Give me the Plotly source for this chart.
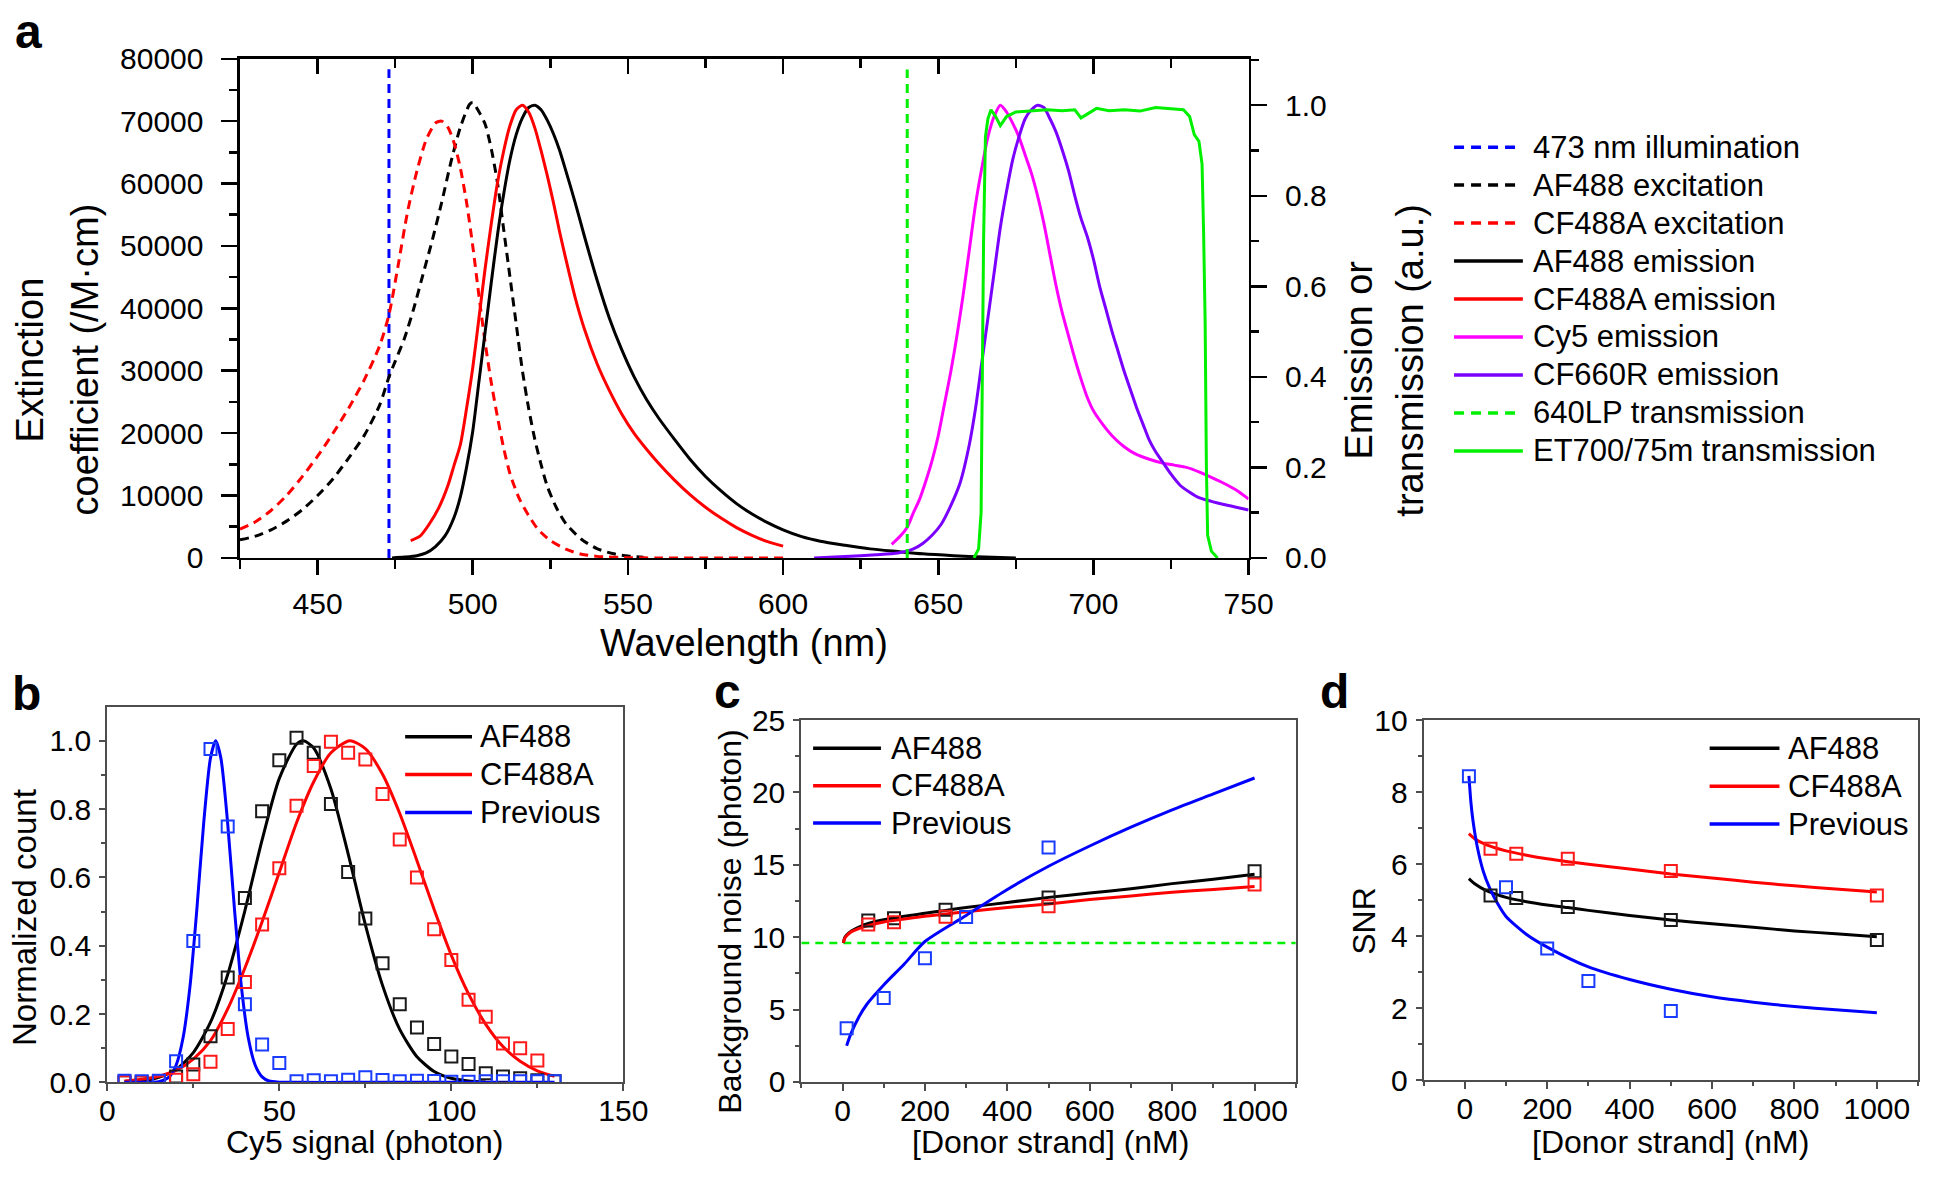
import plotly.graph_objects as go

W, H = 1946, 1179
def PX(x): return x / W
def PY(y): return 1 - y / H

FONT = "Liberation Sans, Arial, sans-serif"
BLUE, BLACK, RED = "#0000ff", "#000000", "#ff0000"
MAGENTA, PURPLE, GREEN = "#ff00ff", "#7a00ff", "#00f000"

# ---------------- panel a data ----------------
illum_wl = 473
illum_top = 78300
lp_wl = 640
lp_top = 1.079

af488_exc_wl = [425,430,435,440,445,450,455,460,465,470,473,475,478,481,484,487,490,493,496,499,
                500,502,504,506,508,510,512,514,516,518,520,522,524,527,530,535,540,545,550,555]
af488_exc = [2900,3500,4500,5900,7700,10000,12700,16000,19600,24500,29000,31500,35200,40000,45500,
             51000,57000,63500,69000,72700,73000,71500,69500,65500,60000,52500,45000,37500,30000,
             24000,19000,15000,11500,8000,5500,3000,1500,700,300,100]

cf488a_exc_wl = [425,430,435,440,445,450,455,460,465,470,473,476,479,482,485,488,490,492,494,496,
                 498,500,502,504,506,508,510,512,515,518,521,525,530,535,540,550,560,580,600]
cf488a_exc = [4600,5800,7600,10000,13000,16300,20000,24000,28500,34000,39000,47000,55500,62000,
              67000,69700,70000,69000,66500,62500,57000,50000,42000,34500,28000,22500,17500,13500,
              9500,6800,4600,2800,1400,600,250,50,0,0,0]

af488_em_wl = [474,478,482,485,488,491,494,496,498,500,502,504,506,508,510,512,514,516,518,520,
               522,524,526,528,530,533,536,540,544,548,552,556,560,565,570,575,580,585,590,595,
               600,606,612,620,628,637,645,655,665,675]
af488_em = [0.0,0.002,0.005,0.011,0.025,0.048,0.09,0.135,0.2,0.28,0.39,0.5,0.61,0.715,0.805,0.88,
            0.935,0.972,0.995,1.0,0.99,0.967,0.937,0.9,0.855,0.785,0.71,0.615,0.53,0.46,0.4,
            0.35,0.308,0.262,0.218,0.18,0.148,0.12,0.097,0.078,0.062,0.047,0.037,0.028,0.02,
            0.014,0.009,0.005,0.002,0.0]

cf488a_em_wl = [480,483,486,489,492,494,496,498,500,502,504,506,508,510,512,514,516,518,520,522,
                524,526,528,530,533,536,540,544,548,552,556,560,565,570,575,580,585,590,595,600]
cf488a_em = [0.038,0.048,0.075,0.11,0.16,0.205,0.25,0.33,0.42,0.53,0.64,0.74,0.83,0.9,0.955,0.99,
             1.0,0.985,0.95,0.9,0.845,0.785,0.72,0.66,0.575,0.505,0.43,0.37,0.318,0.275,0.24,
             0.208,0.172,0.14,0.112,0.088,0.067,0.05,0.036,0.026]

cy5_em_wl = [635,638,640,642,644,646,648,650,652,654,656,658,660,662,664,666,668,670,672,674,676,
             678,680,682,684,686,688,690,692,694,696,698,700,703,706,710,714,718,722,726,730,734,
             738,742,746,750]
cy5_em = [0.03,0.05,0.068,0.1,0.13,0.17,0.215,0.27,0.34,0.41,0.49,0.58,0.68,0.78,0.86,0.93,0.975,
          1.0,0.985,0.96,0.93,0.89,0.85,0.8,0.74,0.67,0.6,0.54,0.49,0.44,0.395,0.355,0.325,0.295,
          0.27,0.245,0.228,0.218,0.21,0.205,0.2,0.19,0.178,0.165,0.15,0.13]

cf660r_em_wl = [610,620,630,637,642,645,648,651,654,657,660,662,664,666,668,670,672,674,676,678,
                680,682,684,686,688,690,692,694,696,698,700,702,704,706,708,710,712,714,716,718,
                720,722,725,728,731,734,738,742,746,750]
cf660r_em = [0.0,0.003,0.007,0.011,0.02,0.032,0.05,0.075,0.115,0.165,0.25,0.33,0.43,0.53,0.63,0.73,
             0.81,0.88,0.93,0.97,0.99,1.0,0.995,0.97,0.94,0.9,0.855,0.8,0.75,0.71,0.66,0.6,0.55,
             0.5,0.455,0.41,0.37,0.33,0.295,0.26,0.235,0.215,0.185,0.16,0.145,0.133,0.125,0.118,
             0.112,0.106]

et700_wl = [661.5,663,663.8,664.2,664.6,665.2,666,667,668.5,670,672,675,680,685,690,694,696,698,
            701,705,710,715,720,725,729,731,732.5,734,735,735.5,736,736.4,736.8,738,740]
et700_tr = [0.0,0.02,0.1,0.45,0.7,0.93,0.97,0.99,0.975,0.955,0.975,0.985,0.987,0.99,0.988,0.99,
            0.972,0.98,0.993,0.988,0.99,0.987,0.995,0.992,0.99,0.975,0.935,0.92,0.87,0.72,0.52,
            0.2,0.05,0.015,0.0]

legend_a = ["473 nm illumination", "AF488 excitation", "CF488A excitation", "AF488 emission",
            "CF488A emission", "Cy5 emission", "CF660R emission", "640LP transmission",
            "ET700/75m transmission"]

# ---------------- panel b data ----------------
series_names = ["AF488", "CF488A", "Previous"]
b_bins = [5,10,15,20,25,30,35,40,45,50,55,60,65,70,75,80,85,90,95,100,105,110,115,120,125,130]
b_af488 = [0.0,0.0,0.003,0.017,0.052,0.135,0.307,0.54,0.794,0.943,1.009,0.965,0.815,0.616,0.48,
           0.349,0.229,0.161,0.112,0.076,0.054,0.027,0.017,0.012,0.006,0.003]
b_cf_bins = [5,10,15,20,25,30,35,40,45,50,55,60,65,70,75,80,85,90,95,100,105,110,115,120,125]
b_cf488a = [0.0,0.0,0.0,0.008,0.024,0.06,0.156,0.294,0.462,0.627,0.81,0.926,0.997,0.965,0.945,
            0.844,0.711,0.6,0.448,0.358,0.242,0.192,0.114,0.1,0.064]
b_prev = [0.005,0.003,0.005,0.062,0.414,0.976,0.749,0.229,0.111,0.057,0.003,0.006,0.003,0.008,
          0.015,0.007,0.003,0.005,0.004,0.002,0.002,0.003,0.003,0.003,0.003,0.003]

b_af_fit_x = [5,10,15,20,25,30,35,40,45,50,55,57,60,65,70,75,80,85,90,95,100,105,110]
b_af_fit = [0.002,0.005,0.015,0.038,0.087,0.176,0.316,0.503,0.71,0.89,0.99,1.0,0.979,0.859,0.669,
            0.462,0.284,0.155,0.075,0.032,0.012,0.004,0.001]
b_cf_fit_x = [5,10,15,20,25,30,35,40,45,50,55,60,65,70.5,75,80,85,90,95,100,105,110,115,120,125,130]
b_cf_fit = [0.004,0.009,0.018,0.035,0.068,0.122,0.215,0.335,0.47,0.615,0.76,0.88,0.965,1.0,0.977,
            0.902,0.787,0.649,0.506,0.372,0.259,0.17,0.105,0.062,0.034,0.018]
b_prev_fit_x = [5,10,13,15,18,20,22,24,26,28,30,31.5,33,35,37,39,41,43,45,47,50,55,70,100,130]
b_prev_fit = [0.0,0.0,0.0005,0.002,0.016,0.05,0.129,0.278,0.503,0.757,0.95,1.0,0.95,0.757,0.503,
              0.278,0.129,0.05,0.016,0.004,0.0005,0.0,0.0,0.0,0.0]

# ---------------- panel c data ----------------
donor = [62.5, 125, 250, 500, 1000]
prev_donor = [10, 100, 200, 300, 500]
c_af488 = [11.15, 11.3, 11.9, 12.75, 14.55]
c_cf488a = [10.87, 11.03, 11.42, 12.14, 13.64]
c_prev = [3.7, 5.8, 8.55, 11.4, 16.2]
c_fit_x = [2,5,10,20,40,62.5,100,150,200,250,300,400,500,600,700,800,900,1000]
c_af_fit = [9.6,9.95,10.15,10.4,10.7,10.95,11.2,11.45,11.65,11.85,12.05,12.4,12.75,13.05,13.35,
            13.7,14.0,14.35]
c_cf_fit = [9.6,9.9,10.1,10.35,10.6,10.8,11.05,11.25,11.45,11.6,11.75,12.05,12.3,12.6,12.85,13.1,
            13.3,13.5]
c_prev_fit_x = [10,20,40,60,100,150,200,300,400,500,600,700,800,900,1000]
c_prev_fit = [2.5,3.3,4.5,5.4,6.7,8.15,9.7,11.5,13.3,14.9,16.3,17.6,18.8,19.9,21.0]
c_threshold = 9.6
c_threshold_x = [-100, 1100]

# ---------------- panel d data ----------------
d_af488 = [5.13, 5.06, 4.81, 4.45, 3.90]
d_cf488a = [6.43, 6.29, 6.15, 5.81, 5.13]
d_prev = [8.44, 5.36, 3.66, 2.76, 1.93]
d_fit_x = [10,25,50,75,100,150,200,250,300,400,500,600,700,800,900,1000]
d_af_fit = [5.6,5.45,5.28,5.17,5.08,4.96,4.87,4.8,4.72,4.58,4.45,4.35,4.25,4.15,4.07,3.99]
d_cf_fit = [6.85,6.7,6.55,6.45,6.37,6.25,6.15,6.07,6.0,5.87,5.73,5.62,5.5,5.4,5.31,5.23]
d_prev_fit_x = [10,15,20,30,45,60,80,100,150,200,300,400,500,600,700,800,900,1000]
d_prev_fit = [8.45,7.7,7.2,6.5,5.8,5.35,4.9,4.55,4.05,3.7,3.15,2.8,2.53,2.32,2.17,2.05,1.96,1.88]

# ======================================================
fig = go.Figure()
DASH = "9px,6px"

def line(x, y, color, xa, ya, dash="solid", width=3, shape="spline"):
    ln = dict(color=color, width=width, dash=dash, shape=shape)
    if shape == "spline":
        ln["smoothing"] = 0.7
    fig.add_trace(go.Scatter(x=x, y=y, mode="lines", xaxis=xa, yaxis=ya, showlegend=False,
                             hoverinfo="skip", line=ln))

def squares(x, y, color, xa, ya):
    fig.add_trace(go.Scatter(x=x, y=y, mode="markers", xaxis=xa, yaxis=ya, showlegend=False,
                             hoverinfo="skip",
                             marker=dict(symbol="square-open", size=12, color=color,
                                         line=dict(width=2, color=color))))

# panel a
line([illum_wl, illum_wl], [0, illum_top], BLUE, "x", "y", DASH, 3, "linear")
line(af488_exc_wl, af488_exc, BLACK, "x", "y", DASH)
line(cf488a_exc_wl, cf488a_exc, RED, "x", "y", DASH)
line(af488_em_wl, af488_em, BLACK, "x", "y2")
line(cf488a_em_wl, cf488a_em, RED, "x", "y2")
line(cy5_em_wl, cy5_em, MAGENTA, "x", "y2")
line(cf660r_em_wl, cf660r_em, PURPLE, "x", "y2")
line([lp_wl, lp_wl], [0, lp_top], GREEN, "x", "y2", DASH, 3, "linear")
line(et700_wl, et700_tr, GREEN, "x", "y2", "solid", 3, "linear")
# carrier for the inward top tick axis
fig.add_trace(go.Scatter(x=[425], y=[0], xaxis="x5", yaxis="y", mode="markers",
                         marker=dict(opacity=0), hoverinfo="skip", showlegend=False))

# panel b
line(b_af_fit_x, b_af_fit, BLACK, "x2", "y3")
line(b_cf_fit_x, b_cf_fit, RED, "x2", "y3")
line(b_prev_fit_x, b_prev_fit, BLUE, "x2", "y3")
squares(b_bins, b_af488, "#1a1a1a", "x2", "y3")
squares(b_cf_bins, b_cf488a, "#ff1a1a", "x2", "y3")
squares(b_bins, b_prev, "#1a3cff", "x2", "y3")

# panel c
line(c_threshold_x, [c_threshold, c_threshold], GREEN, "x3", "y4", "8px,6px", 2.5, "linear")
line(c_fit_x, c_af_fit, BLACK, "x3", "y4")
line(c_fit_x, c_cf_fit, RED, "x3", "y4")
line(c_prev_fit_x, c_prev_fit, BLUE, "x3", "y4")
squares(donor, c_af488, "#1a1a1a", "x3", "y4")
squares(donor, c_cf488a, "#ff1a1a", "x3", "y4")
squares(prev_donor, c_prev, "#1a3cff", "x3", "y4")

# panel d
line(d_fit_x, d_af_fit, BLACK, "x4", "y5")
line(d_fit_x, d_cf_fit, RED, "x4", "y5")
line(d_prev_fit_x, d_prev_fit, BLUE, "x4", "y5")
squares(donor, d_af488, "#1a1a1a", "x4", "y5")
squares(donor, d_cf488a, "#ff1a1a", "x4", "y5")
squares(prev_donor, d_prev, "#1a3cff", "x4", "y5")

# ======================================================
TICKFONT = dict(family=FONT, size=30, color="black")

def axis(domain, rng, dtick, minor_dtick, color, lw, ticklen, mirror, anchor, fmt=None,
         tickvals=None, side=None, standoff=0, minorlen=None):
    d = dict(domain=domain, range=rng, dtick=dtick, tick0=0, showgrid=False, zeroline=False,
             showline=True, linecolor=color, linewidth=lw, ticks="outside", ticklen=ticklen,
             tickwidth=lw, tickcolor=color, tickfont=TICKFONT, mirror=mirror, anchor=anchor,
             ticklabelstandoff=standoff,
             minor=dict(dtick=minor_dtick, tick0=0, ticks="outside",
                        ticklen=minorlen if minorlen else ticklen * 0.55,
                        tickwidth=lw, tickcolor=color, showgrid=False),
             fixedrange=True)
    if fmt:
        d["tickformat"] = fmt
    if tickvals is not None:
        d["tickvals"] = tickvals
        d["tickmode"] = "array"
    if side:
        d["side"] = side
    return d

ax_a_x = [PX(236), PX(1262)]
ax_a_y = [PY(557), PY(43)]
ax_b_x = [PX(101), PX(626)]
ax_b_y = [PY(1097), PY(711)]
ax_c_x = [PX(807), PX(1310)]
ax_c_y = [PY(1096.5), PY(724)]
ax_d_x = [PX(1440), PX(1943)]
ax_d_y = [PY(1095), PY(724)]

GRAY = "#4d4d4d"
layout_axes = dict(
    xaxis=axis(ax_a_x, [425, 750], 50, 25, "black", 2.5, 15, False, "y", standoff=3,
               minorlen=9),
    yaxis=axis(ax_a_y, [0, 80000], 10000, 5000, "black", 2.5, 16, False, "x", "d",
               standoff=12, minorlen=8),
    yaxis2=dict(axis(ax_a_y, [0, 1.1026], 0.2, 0.1, "black", 2.5, 16, False, "x", ".1f",
                     side="right", standoff=12, minorlen=8), overlaying="y"),
    xaxis5=dict(domain=ax_a_x, range=[425, 750], overlaying="x", side="top", anchor="y",
                showline=True, linecolor="black", linewidth=2.5, showgrid=False, zeroline=False,
                ticks="inside", ticklen=15, tickwidth=2.5, tickcolor="black", dtick=50, tick0=0,
                showticklabels=False, fixedrange=True,
                minor=dict(dtick=25, tick0=0, ticks="inside", ticklen=9, tickwidth=2.5,
                           tickcolor="black")),
    xaxis2=axis(ax_b_x, [0, 150], 50, 25, GRAY, 2, 7, True, "y3", standoff=-6, minorlen=4),
    yaxis3=axis(ax_b_y, [0, 1.0975], 0.2, 0.1, GRAY, 2, 6, True, "x2", ".1f", standoff=2,
                minorlen=4),
    xaxis3=axis(ax_c_x, [-100, 1100], 200, 100, GRAY, 2, 7, True, "y4",
                tickvals=[0, 200, 400, 600, 800, 1000], standoff=-6, minorlen=4),
    yaxis4=axis(ax_c_y, [0, 25], 5, 2.5, GRAY, 2, 6, True, "x3", standoff=2, minorlen=4),
    xaxis4=axis(ax_d_x, [-100, 1100], 200, 100, GRAY, 2, 7, True, "y5",
                tickvals=[0, 200, 400, 600, 800, 1000], standoff=-6, minorlen=4),
    yaxis5=axis(ax_d_y, [0, 10], 2, 1, GRAY, 2, 6, True, "x4", standoff=2, minorlen=4),
)

annotations = []
shapes = []

def text(s, x, y, size, angle=0, xanchor="center", yanchor="middle", bold=False):
    annotations.append(dict(text=f"<b>{s}</b>" if bold else s, x=PX(x), y=PY(y),
                            xref="paper", yref="paper", showarrow=False, textangle=angle,
                            xanchor=xanchor, yanchor=yanchor, borderpad=0,
                            font=dict(family=FONT, size=size, color="black")))

# axis titles
text("Extinction", 22, 353, 38, -90)
text("coefficient (/M·cm)", 78, 353, 38, -90)
text("Emission or", 1374, 353, 38, -90)
text("transmission (a.u.)", 1426, 353, 38, -90)
text("Wavelength (nm)", 749, 645, 38)
text("Normalized count", 17, 927, 33, -90)
text("Cy5 signal (photon)", 363, 1158, 32)
text("Background noise (photon)", 735, 932, 32, -90)
text("[Donor strand] (nM)", 1060, 1158, 32)
text("SNR", 1380, 931, 32, -90)
text("[Donor strand] (nM)", 1691, 1158, 32)

# panel letters
text("a", 6, 15, 48, xanchor="left", bold=True)
text("b", 3, 697, 48, xanchor="left", bold=True)
text("c", 717, 695, 48, xanchor="left", bold=True)
text("d", 1334, 695, 48, xanchor="left", bold=True)

def legend_entry(label, color, dash, x0, x1, xt, y, size, width=3.5):
    shapes.append(dict(type="line", xref="paper", yref="paper", x0=PX(x0), x1=PX(x1),
                       y0=PY(y), y1=PY(y), line=dict(color=color, width=width, dash=dash)))
    text(label, xt, y, size, xanchor="left")

leg_a_style = [(BLUE, "10px,7px"), (BLACK, "10px,7px"), (RED, "10px,7px"), (BLACK, "solid"),
               (RED, "solid"), (MAGENTA, "solid"), (PURPLE, "solid"), (GREEN, "10px,7px"),
               (GREEN, "solid")]
for i, (lab, (col, ds)) in enumerate(zip(legend_a, leg_a_style)):
    legend_entry(lab, col, ds, 1471, 1541 if ds == "solid" else 1536, 1550, 134 + i * 39.1, 31)

cols3 = [BLACK, RED, BLUE]
for i, (lab, col) in enumerate(zip(series_names, cols3)):
    legend_entry(lab, col, "solid", 404, 472, 479, 741 + i * 39, 31)
    legend_entry(lab, col, "solid", 819, 888, 897, 753 + i * 38.5, 31)
    legend_entry(lab, col, "solid", 1731, 1802, 1810, 753 + i * 39, 31)

fig.update_layout(
    width=W, height=H, margin=dict(l=0, r=0, t=0, b=0, pad=0),
    paper_bgcolor="white", plot_bgcolor="white", showlegend=False,
    annotations=annotations, shapes=shapes, **layout_axes,
)

fig.write_html(
    "out.html",
    config={"displayModeBar": False, "staticPlot": True},
    post_script="document.body.style.margin='0px';document.body.style.padding='0px';"
                "document.documentElement.style.overflow='hidden';",
)
